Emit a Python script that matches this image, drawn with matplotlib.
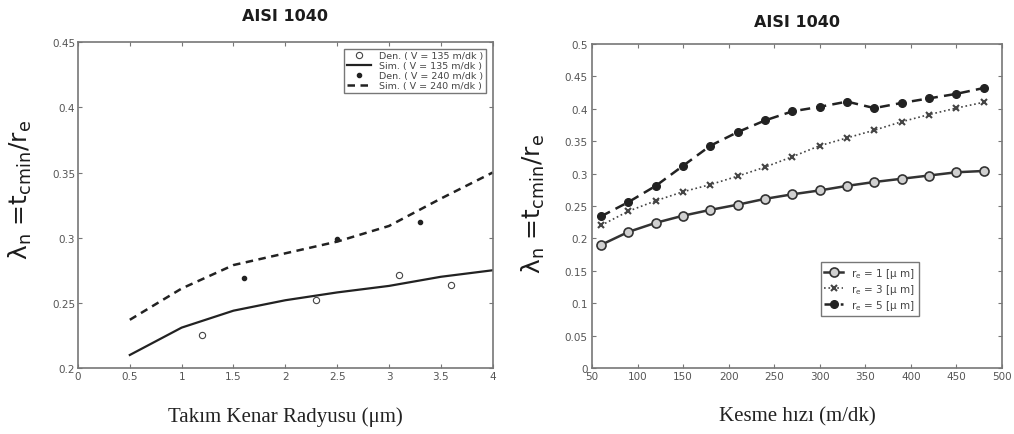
import matplotlib
matplotlib.use("Agg")
import matplotlib.pyplot as plt
from matplotlib.ticker import FuncFormatter

# Left panel: minimum chip thickness ratio vs tool edge radius
radius = [0.5, 1.0, 1.5, 2.0, 2.5, 3.0, 3.5, 4.0]
sim_135 = [0.210, 0.231, 0.244, 0.252, 0.258, 0.263, 0.270, 0.275]
sim_240 = [0.237, 0.261, 0.279, 0.288, 0.297, 0.309, 0.330, 0.350]
exp_135_x = [1.2, 2.3, 3.1, 3.6]
exp_135_y = [0.225, 0.252, 0.271, 0.264]
exp_240_x = [1.6, 2.5, 3.3]
exp_240_y = [0.269, 0.299, 0.312]

# Right panel: ratio vs cutting speed for three edge radii
speed = [60, 90, 120, 150, 180, 210, 240, 270, 300, 330, 360, 390, 420, 450, 480]
re_1 = [0.190, 0.210, 0.224, 0.235, 0.244, 0.252, 0.261, 0.268, 0.274, 0.281,
        0.287, 0.292, 0.297, 0.302, 0.304]
re_3 = [0.220, 0.242, 0.258, 0.272, 0.283, 0.296, 0.310, 0.326, 0.343, 0.355,
        0.367, 0.380, 0.391, 0.401, 0.410]
re_5 = [0.234, 0.256, 0.281, 0.312, 0.343, 0.364, 0.382, 0.396, 0.403, 0.411,
        0.401, 0.409, 0.416, 0.423, 0.432]

title_color = '#1c1c1c'
tick_color = '#555555'
frame_color = '#777777'
ylab = (r'$\mathregular{\lambda_n}$ =t$_{\mathregular{cmin}}$'
        r'/r$_\mathregular{e}$')


def style_axes(ax):
    for s in ax.spines.values():
        s.set_color(frame_color)
        s.set_linewidth(1.2)
    ax.tick_params(direction='in', top=True, right=True, length=3,
                   labelsize=7.5, labelcolor=tick_color, color=frame_color, pad=2)
    ax.yaxis.set_major_formatter(FuncFormatter(lambda v, p: '%g' % round(v, 3)))
    ax.xaxis.set_major_formatter(FuncFormatter(lambda v, p: '%g' % round(v, 3)))


fig = plt.figure(figsize=(10.14, 4.35), dpi=100)

ax1 = fig.add_axes([0.0769, 0.1517, 0.409, 0.749])
ax1.plot(exp_135_x, exp_135_y, 'o', mfc='white', mec='#444444', ms=4.5, mew=0.8,
         label='Den. ( V = 135 m/dk )')
ax1.plot(radius, sim_135, '-', color='#222222', lw=1.6, label='Sim. ( V = 135 m/dk )')
ax1.plot(exp_240_x, exp_240_y, 'o', color='#222222', ms=3,
         label='Den. ( V = 240 m/dk )')
ax1.plot(radius, sim_240, '--', color='#222222', lw=1.8, dashes=(3, 2.2),
         label='Sim. ( V = 240 m/dk )')
ax1.set_xlim(0, 4)
ax1.set_ylim(0.2, 0.45)
ax1.set_xticks([0, 0.5, 1, 1.5, 2, 2.5, 3, 3.5, 4])
ax1.set_yticks([0.2, 0.25, 0.3, 0.35, 0.4, 0.45])
style_axes(ax1)
leg1 = ax1.legend(loc='upper right', fontsize=6.8, frameon=True, fancybox=False,
                  borderpad=0.3, labelspacing=0.1, handlelength=2.6,
                  bbox_to_anchor=(0.995, 0.995))
leg1.get_frame().set_edgecolor('#555555')
leg1.get_frame().set_linewidth(1.0)
for t in leg1.get_texts():
    t.set_color('#444444')
ax1.set_title('AISI 1040', fontsize=11.5, fontweight='bold', color=title_color, pad=16)
ax1.set_xlabel('Takım Kenar Radyusu (μm)', family='Liberation Serif', fontsize=15,
               color='#222222', labelpad=18)
ax1.set_ylabel(ylab, fontsize=18, color=title_color)
ax1.yaxis.set_label_coords(-0.107, 0.55)

ax2 = fig.add_axes([0.5838, 0.1517, 0.4043, 0.745])
ax2.plot(speed, re_1, '-o', color='#333333', lw=1.8, ms=6.5, mfc='#d0d0d0',
         mec='#333333', mew=1.2, label=r'r$_\mathregular{e}$ = 1 [μ m]')
ax2.plot(speed, re_3, ':x', color='#444444', lw=1.2, ms=4.5, mew=1.5,
         label=r'r$_\mathregular{e}$ = 3 [μ m]')
ax2.plot(speed, re_5, '--o', color='#222222', lw=1.8, ms=5.5, dashes=(4, 2.5),
         label=r'r$_\mathregular{e}$ = 5 [μ m]')
ax2.set_xlim(50, 500)
ax2.set_ylim(0, 0.5)
ax2.set_xticks(range(50, 501, 50))
ax2.set_yticks([i * 0.05 for i in range(11)])
style_axes(ax2)
ax2.tick_params(axis='y', pad=3)
leg2 = ax2.legend(loc='upper left', bbox_to_anchor=(0.545, 0.343), fontsize=7.5,
                  frameon=True, fancybox=False, borderpad=0.35,
                  labelspacing=0.2, handlelength=1.8)
leg2.get_frame().set_edgecolor('#555555')
leg2.get_frame().set_linewidth(1.0)
for t in leg2.get_texts():
    t.set_color('#444444')
ax2.set_title('AISI 1040', fontsize=11.5, fontweight='bold', color=title_color, pad=13)
ax2.set_xlabel('Kesme hızı (m/dk)', family='Liberation Serif', fontsize=15,
               color='#222222', labelpad=18)
ax2.set_ylabel(ylab, fontsize=18, color=title_color)
ax2.yaxis.set_label_coords(-0.11, 0.51)

fig.savefig('out.png', dpi=100)
